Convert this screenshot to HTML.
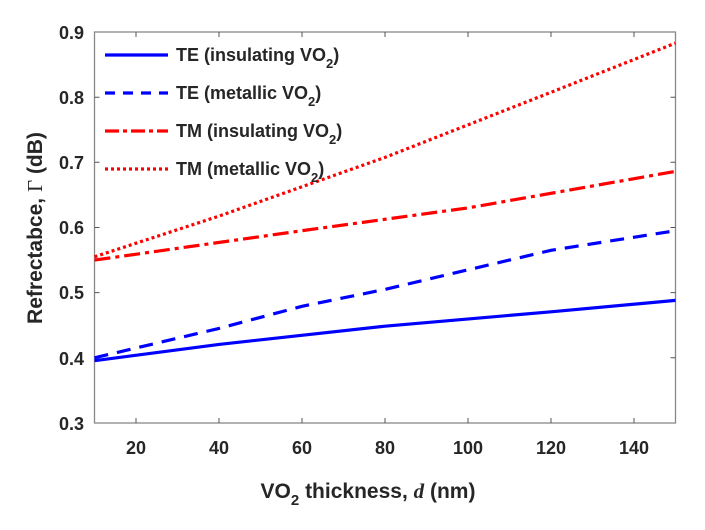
<!DOCTYPE html>
<html><head><meta charset="utf-8"><style>body{margin:0;background:#fff}</style></head><body>
<svg width="705" height="525" xmlns="http://www.w3.org/2000/svg" font-family="Liberation Sans, sans-serif" font-weight="bold" fill="#262626">
<rect width="705" height="525" fill="#fff"/>
<g stroke="#888" stroke-width="1.3" fill="none">
<rect x="94.5" y="32" width="581" height="391"/>
</g>
<g stroke="#555" stroke-width="1">
<path d="M136 423v-5M219 423v-5M302 423v-5M385 423v-5M468 423v-5M551 423v-5M634 423v-5
M136 32v5M219 32v5M302 32v5M385 32v5M468 32v5M551 32v5M634 32v5
M94.5 357.8h5M94.5 292.6h5M94.5 227.5h5M94.5 162.3h5M94.5 97.2h5
M675.5 357.8h-5M675.5 292.6h-5M675.5 227.5h-5M675.5 162.3h-5M675.5 97.2h-5"/>
</g>
<g font-size="18" text-anchor="end">
<text x="84" y="430">0.3</text><text x="84" y="365">0.4</text><text x="84" y="299">0.5</text>
<text x="84" y="234">0.6</text><text x="84" y="169">0.7</text><text x="84" y="104">0.8</text><text x="84" y="39">0.9</text>
</g>
<g font-size="18" text-anchor="middle">
<text x="136" y="454">20</text><text x="219" y="454">40</text><text x="302" y="454">60</text><text x="385" y="454">80</text>
<text x="468" y="454">100</text><text x="551" y="454">120</text><text x="634" y="454">140</text>
</g>
<text x="368" y="498" font-size="21" text-anchor="middle">VO<tspan font-size="15" dy="7">2</tspan><tspan dy="-7"> thickness, </tspan><tspan font-family="Liberation Serif, serif" font-style="italic">d</tspan> (nm)</text>
<text transform="translate(42,228) rotate(-90)" font-size="21" text-anchor="middle">Refrectabce, <tspan font-family="Liberation Serif, serif" font-weight="normal">Γ</tspan> (dB)</text>
<g fill="none" stroke-width="3.2">
<polyline stroke="#0000ff" points="94.5,360.7 219,344.4 385,326.2 551,311.8 675.5,300.4"/>
<polyline stroke="#0000ff" stroke-dasharray="14,9" points="94.5,357.8 219,328.4 302,306.3 385,289.4 468,269.8 551,250.3 675.5,230.7"/>
<polyline stroke="#ff0000" stroke-dasharray="16,5,4,5" points="94.5,260.1 302,230.7 468,207.9 675.5,171.4"/>
<polyline stroke="#ff0000" stroke-dasharray="3,3" points="94.5,256.8 219,216.1 385,157.4 551,92.3 675.5,43.1"/>
</g>
<g stroke-width="3.2">
<line x1="105" y1="55" x2="168" y2="55" stroke="#0000ff"/>
<line x1="105" y1="93" x2="168" y2="93" stroke="#0000ff" stroke-dasharray="10,8"/>
<line x1="105" y1="131" x2="168" y2="131" stroke="#ff0000" stroke-dasharray="14,4,4,4"/>
<line x1="105" y1="169" x2="168" y2="169" stroke="#ff0000" stroke-dasharray="3,3"/>
</g>
<g font-size="18">
<text x="176" y="61">TE (insulating VO<tspan font-size="13" dy="7">2</tspan><tspan dy="-7">)</tspan></text>
<text x="176" y="99">TE (metallic VO<tspan font-size="13" dy="7">2</tspan><tspan dy="-7">)</tspan></text>
<text x="176" y="137">TM (insulating VO<tspan font-size="13" dy="7">2</tspan><tspan dy="-7">)</tspan></text>
<text x="176" y="175">TM (metallic VO<tspan font-size="13" dy="7">2</tspan><tspan dy="-7">)</tspan></text>
</g>
</svg>
</body></html>
